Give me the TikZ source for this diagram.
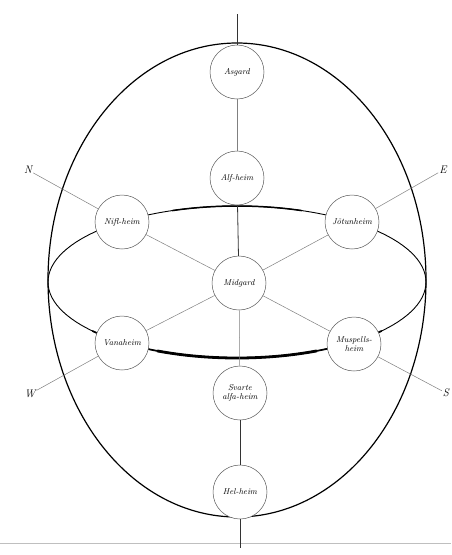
\documentclass[tikz,border=0pt]{standalone}
\begin{document}
\begin{tikzpicture}[x=1pt,y=-1pt,
  world/.style={circle, draw=black!65, line width=0.5pt, minimum size=54pt, inner sep=0pt,
    fill=white, align=center, font=\itshape\fontsize{8.5}{9}\selectfont},
  spoke/.style={draw=black!50, line width=0.5pt},
  axis/.style={draw=black!80, line width=0.8pt},
  compass/.style={font=\itshape\fontsize{11}{11}\selectfont, inner sep=1pt}]
\useasboundingbox (0,0) rectangle (451,555);
\fill[white] (0,0) rectangle (451,555);
% bottom border line
\draw[black!25, line width=0.7pt] (0,543) -- (451,543);
% outer oval
\draw[line width=1.2pt] (237,280) ellipse [x radius=189, y radius=237];
% inner ellipse (equator)
\draw[line width=0.9pt] (237,282) ellipse [x radius=189, y radius=76];
\draw[line width=1.5pt] (237,282) ++(250:189 and 76) arc[start angle=250, end angle=290, x radius=189, y radius=76];
\draw[line width=1.7pt] (237,282) ++(40:189 and 76) arc[start angle=40, end angle=140, x radius=189, y radius=76];
\draw[line width=2.8pt] (237,282) ++(65:189 and 76) arc[start angle=65, end angle=115, x radius=189, y radius=76];
% worlds
\node[world] (asg) at (237,72) {Asgard};
\node[world] (alf) at (237,178) {Alf-heim};
\node[world] (nif) at (122,222) {Nifl-heim};
\node[world] (jot) at (352,222) {Jötunheim};
\node[world] (mid) at (239,283) {Midgard};
\node[world] (van) at (122,343) {Vanaheim};
\node[world] (mus) at (354,344) {Muspells-\\heim};
\node[world] (sva) at (240,393) {Svarte\\alfa-heim};
\node[world] (hel) at (240,492) {Hel-heim};
% compass labels
\node[compass] (N) at (28,170) {N};
\node[compass] (E) at (443,170) {E};
\node[compass] (W) at (30,394) {W};
\node[compass] (S) at (446,393) {S};
\coordinate (top) at (237,14);
\coordinate (bot) at (240,548);
% vertical axis
\draw[axis] (top) -- (asg);
\draw[spoke] (asg) -- (alf);
\draw[axis] (alf) -- (mid);
\draw[spoke] (mid) -- (sva);
\draw[axis, line width=1pt] (sva) -- (hel);
\draw[axis] (hel) -- (bot);
% spokes from Midgard
\draw[spoke] (mid) -- (nif);
\draw[spoke] (mid) -- (jot);
\draw[spoke] (mid) -- (van);
\draw[spoke] (mid) -- (mus);
% compass lines
\draw[spoke] (N) -- (nif);
\draw[spoke] (E) -- (jot);
\draw[spoke] (W) -- (van);
\draw[spoke] (S) -- (mus);
\end{tikzpicture}
\end{document}
